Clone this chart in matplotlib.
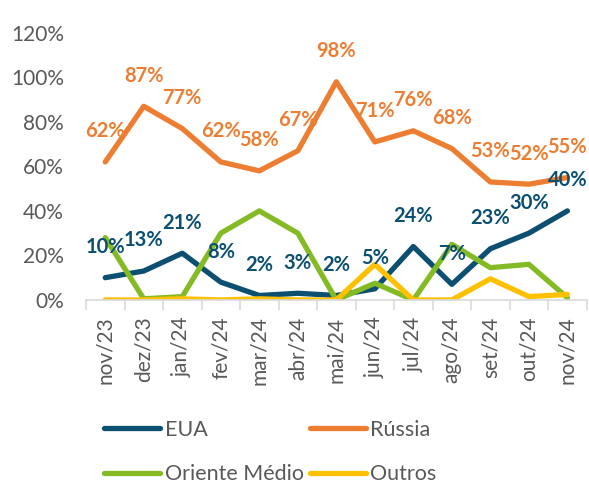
import numpy as np
import matplotlib
matplotlib.use("Agg")
import matplotlib.pyplot as plt
from matplotlib.lines import Line2D

plt.rcParams['font.family'] = ['Lato', 'DejaVu Sans']

months = ['nov/23', 'dez/23', 'jan/24', 'fev/24', 'mar/24', 'abr/24', 'mai/24',
          'jun/24', 'jul/24', 'ago/24', 'set/24', 'out/24', 'nov/24']
eua = [10, 13, 21, 8, 2, 3, 2, 5, 24, 7, 23, 30, 40]
russia = [62, 87, 77, 62, 58, 67, 98, 71, 76, 68, 53, 52, 55]
oriente = [28, 0.5, 1.5, 30, 40, 30, 0, 7.5, 0, 25, 14.5, 16, 1]
outros = [0, 0, 0.5, 0, 0.5, 0, 0, 16, 0, 0, 9.5, 1.5, 2.5]

series = [('EUA', eua, '#0B4F71'), ('Rússia', russia, '#ED7D31'),
          ('Oriente Médio', oriente, '#84BB25'), ('Outros', outros, '#FFC000')]

fig = plt.figure(figsize=(5.89, 4.83), dpi=100)
ax = fig.add_axes([0.146, 0.379, 0.85, 0.553])

x = np.arange(len(months))
for name, vals, col in series:
    ax.plot(x, np.array(vals) / 100, color=col, lw=3.8, solid_capstyle='round',
            solid_joinstyle='round', label=name)

# data labels only for EUA and Russia
for name, vals, col in series[:2]:
    for xi, v in zip(x, vals):
        ax.annotate(f"{v:.0f}%", (xi, v / 100), textcoords='offset points',
                    xytext=(0, 22), ha='center', va='center', color=col,
                    fontsize=14.5, fontweight='bold')

ax.set_xlim(-0.5, len(months) - 0.5)
ax.set_ylim(0, 1.2)
ax.set_yticks(np.arange(0, 1.21, 0.2))
ax.set_yticklabels([f"{int(round(t * 100))}%" for t in np.arange(0, 1.21, 0.2)],
                   fontsize=15, color='#595959')
ax.set_xticks(x)
ax.set_xticklabels(months, rotation=90, fontsize=15, color='#595959')
ax.set_xticks(np.arange(-0.5, len(months)), minor=True)
ax.tick_params(axis='x', which='major', length=0, pad=12)
ax.tick_params(axis='x', which='minor', length=7, color='#D9D9D9', width=1.2)
ax.tick_params(axis='y', length=0, pad=16)

for s in ['top', 'right', 'left']:
    ax.spines[s].set_visible(False)
ax.spines['bottom'].set_color('#D9D9D9')
ax.spines['bottom'].set_linewidth(1.2)

handles = [Line2D([], [], color=c, lw=3.8, solid_capstyle='round') for _, _, c in series]
order = [0, 2, 1, 3]
fig.legend([handles[i] for i in order], [series[i][0] for i in order],
           ncol=2, loc='upper left', bbox_to_anchor=(0.177, 0.131),
           frameon=False, fontsize=15.5, handlelength=2.6, handletextpad=0.2,
           columnspacing=0.3, labelspacing=1.15, labelcolor='#595959',
           borderpad=0, borderaxespad=0)

fig.savefig('out.png', dpi=100)
